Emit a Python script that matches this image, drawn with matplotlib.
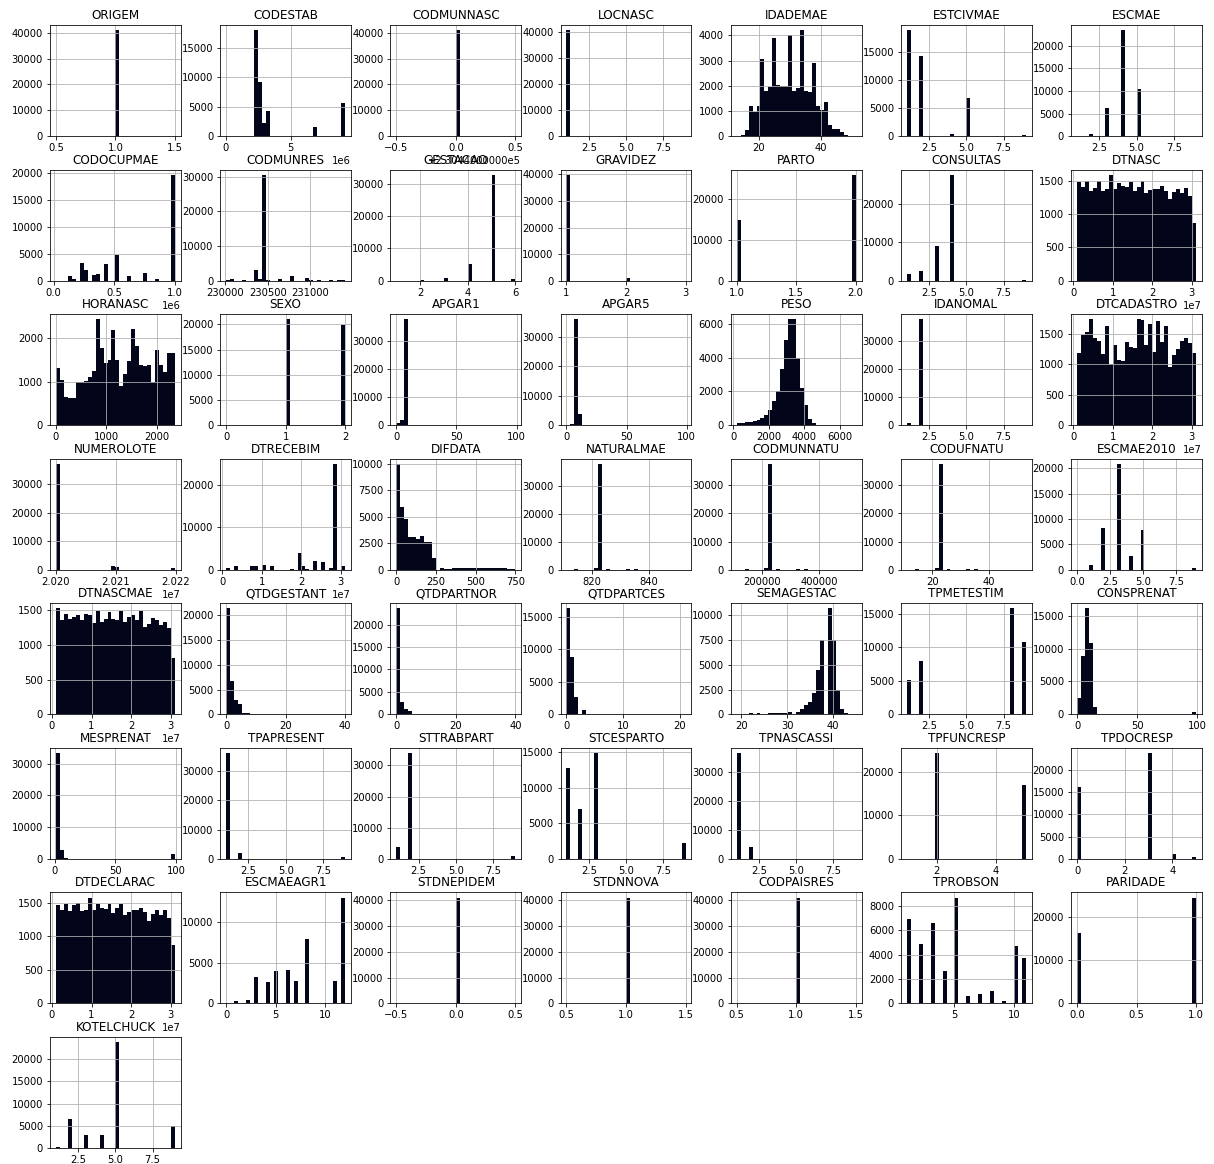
import numpy as np
import matplotlib
matplotlib.use('Agg')
import matplotlib.pyplot as plt
import matplotlib.ticker as mticker

BAR = '#03051A'

columns = ['ORIGEM', 'CODESTAB', 'CODMUNNASC', 'LOCNASC', 'IDADEMAE', 'ESTCIVMAE', 'ESCMAE',
           'CODOCUPMAE', 'CODMUNRES', 'GESTACAO', 'GRAVIDEZ', 'PARTO', 'CONSULTAS', 'DTNASC',
           'HORANASC', 'SEXO', 'APGAR1', 'APGAR5', 'PESO', 'IDANOMAL', 'DTCADASTRO',
           'NUMEROLOTE', 'DTRECEBIM', 'DIFDATA', 'NATURALMAE', 'CODMUNNATU', 'CODUFNATU', 'ESCMAE2010',
           'DTNASCMAE', 'QTDGESTANT', 'QTDPARTNOR', 'QTDPARTCES', 'SEMAGESTAC', 'TPMETESTIM', 'CONSPRENAT',
           'MESPRENAT', 'TPAPRESENT', 'STTRABPART', 'STCESPARTO', 'TPNASCASSI', 'TPFUNCRESP', 'TPDOCRESP',
           'DTDECLARAC', 'ESCMAEAGR1', 'STDNEPIDEM', 'STDNNOVA', 'CODPAISRES', 'TPROBSON', 'PARIDADE',
           'KOTELCHUCK']

# ---- discrete columns: distinct values and their frequencies ----
ORIGEM_vals = [1]
ORIGEM_cnts = [40900]
CODMUNNASC_vals = [230440]
CODMUNNASC_cnts = [40900]
LOCNASC_vals = [1, 2, 3, 4, 9]
LOCNASC_cnts = [40700, 100, 50, 20, 10]
ESTCIVMAE_vals = [1, 2, 3, 4, 5, 9]
ESTCIVMAE_cnts = [18800, 14200, 50, 400, 6800, 150]
ESCMAE_vals = [1, 2, 3, 4, 5, 9]
ESCMAE_cnts = [50, 500, 6300, 23400, 10500, 100]
GESTACAO_vals = [1, 2, 3, 4, 5, 6]
GESTACAO_cnts = [60, 250, 700, 5200, 32800, 600]
GRAVIDEZ_vals = [1, 2, 3]
GRAVIDEZ_cnts = [39800, 1100, 20]
PARTO_vals = [1, 2]
PARTO_cnts = [14900, 26000]
CONSULTAS_vals = [1, 2, 3, 4, 9]
CONSULTAS_cnts = [1700, 2500, 9000, 27500, 300]
SEXO_vals = [0, 1, 2]
SEXO_cnts = [5, 21000, 19800]
IDANOMAL_vals = [1, 2, 9]
IDANOMAL_cnts = [700, 37500, 100]
NATURALMAE_vals = [811, 815, 822, 823, 826, 832, 835, 853]
NATURALMAE_cnts = [20, 400, 800, 37800, 300, 300, 300, 20]
CODMUNNATU_vals = [110000, 140000, 215000, 230440, 260000, 325000, 355000, 530010]
CODMUNNATU_cnts = [20, 250, 800, 37500, 300, 300, 300, 30]
CODUFNATU_vals = [11, 15, 22, 23, 26, 32, 35, 53]
CODUFNATU_cnts = [20, 250, 800, 37500, 300, 300, 300, 30]
ESCMAE2010_vals = [0, 1, 2, 3, 4, 5, 9]
ESCMAE2010_cnts = [50, 1000, 8300, 20900, 2700, 7800, 300]
SEMAGESTAC_vals = list(range(19, 46))
SEMAGESTAC_cnts = [5, 10, 20, 100, 20, 100, 60, 120, 130, 140, 150, 160, 250, 250, 500,
                   900, 1300, 2200, 4500, 7500, 10700, 7500, 2500, 500, 150, 30, 10]
TPMETESTIM_vals = [1, 2, 8, 9]
TPMETESTIM_cnts = [5200, 7900, 15800, 10800]
TPAPRESENT_vals = [1, 2, 3, 9]
TPAPRESENT_cnts = [36200, 1900, 100, 700]
STTRABPART_vals = [1, 2, 3, 9]
STTRABPART_cnts = [3700, 34000, 50, 1000]
STCESPARTO_vals = [1, 2, 3, 9]
STCESPARTO_cnts = [12800, 7000, 14900, 2200]
TPNASCASSI_vals = [1, 2, 3, 9]
TPNASCASSI_cnts = [36700, 4300, 50, 30]
TPFUNCRESP_vals = [1, 2, 3, 4, 5]
TPFUNCRESP_cnts = [10, 24300, 30, 10, 16900]
TPDOCRESP_vals = [0, 1, 2, 3, 4, 5]
TPDOCRESP_cnts = [16000, 20, 20, 23700, 1200, 500]
ESCMAEAGR1_vals = [0, 1, 2, 3, 4, 5, 6, 7, 8, 9, 10, 11, 12]
ESCMAEAGR1_cnts = [50, 300, 400, 3300, 2600, 4000, 4100, 2700, 7900, 100, 50, 2700, 13000]
STDNEPIDEM_vals = [0]
STDNEPIDEM_cnts = [40900]
STDNNOVA_vals = [1]
STDNNOVA_cnts = [40900]
CODPAISRES_vals = [1]
CODPAISRES_cnts = [40900]
TPROBSON_vals = [1, 2, 3, 4, 5, 6, 7, 8, 9, 10, 11]
TPROBSON_cnts = [6900, 4900, 6600, 2700, 8700, 600, 800, 1000, 200, 4700, 3700]
PARIDADE_vals = [0, 1]
PARIDADE_cnts = [16300, 24600]
KOTELCHUCK_vals = [1, 2, 3, 4, 5, 9]
KOTELCHUCK_cnts = [200, 6500, 3000, 3000, 23800, 4900]

# ---- wide-range columns: data range and the 30 bin counts ----
CODESTAB_range = (20000, 9200000)
CODESTAB_bins = [5, 0, 0, 0, 0, 0, 0, 18000, 9200, 2200, 4300, 0, 0, 0, 0,
                 0, 0, 0, 0, 0, 0, 0, 1600, 0, 0, 0, 0, 0, 0, 5700]
IDADEMAE_range = (13, 51)
IDADEMAE_bins = [20, 60, 250, 1200, 950, 1200, 3050, 1800, 1950, 3900, 2050, 2000, 2000, 4000, 1800,
                 1900, 4200, 1800, 1750, 2900, 1200, 1050, 1350, 450, 300, 280, 150, 40, 10, 5]
CODOCUPMAE_range = (20000, 1000000)
CODOCUPMAE_bins = [0, 0, 0, 800, 300, 0, 3300, 2000, 0, 1000, 1200, 0, 3100, 0, 0,
                   4700, 0, 0, 900, 0, 0, 0, 1400, 0, 0, 250, 0, 0, 0, 19700]
CODMUNRES_range = (230010, 231410)
CODMUNRES_bins = [100, 600, 0, 0, 300, 0, 0, 3000, 600, 30500, 300, 0, 0, 600, 0,
                  0, 1500, 0, 0, 0, 900, 300, 0, 300, 0, 0, 300, 0, 300, 100]
DTNASC_range = (1010000, 31100000)
DTNASC_bins = [1480, 1400, 1490, 1350, 1390, 1490, 1350, 1370, 1590, 1380, 1460, 1420, 1400, 1480, 1340,
               1400, 1490, 1310, 1360, 1380, 1380, 1420, 1350, 1220, 1330, 1380, 1310, 1390, 1270, 870]
HORANASC_range = (0, 2359)
HORANASC_bins = [1310, 1050, 650, 620, 620, 990, 1000, 1020, 1100, 1250, 2430, 1770, 1440, 1490, 2180,
                 1500, 890, 1170, 1480, 2200, 1820, 1380, 1370, 1390, 1000, 1720, 1390, 1220, 1650, 1670]
APGAR1_range = (0, 99)
APGAR1_bins = [800, 1900, 37500, 100, 0, 0, 0, 0, 0, 0, 0, 0, 0, 0, 0,
               0, 0, 0, 0, 0, 0, 0, 0, 0, 0, 0, 0, 0, 0, 50]
APGAR5_range = (0, 99)
APGAR5_bins = [200, 400, 36000, 4000, 0, 0, 0, 0, 0, 0, 0, 0, 0, 0, 0,
               0, 0, 0, 0, 0, 0, 0, 0, 0, 0, 0, 0, 0, 0, 50]
PESO_range = (200, 6900)
PESO_bins = [130, 130, 190, 200, 230, 340, 420, 600, 900, 1450, 2050, 3350, 5050, 6250, 6250,
             3950, 2200, 1200, 400, 120, 40, 15, 8, 5, 3, 2, 2, 1, 1, 1]
DTCADASTRO_range = (1010000, 31100000)
DTCADASTRO_bins = [1180, 1480, 1540, 1740, 1430, 1390, 1170, 1630, 1000, 1320, 1080, 1050, 1370, 1290, 1270,
                   1740, 1730, 1320, 1660, 1200, 1710, 1370, 1630, 960, 1150, 1250, 1390, 1440, 1350, 1180]
NUMEROLOTE_range = (20200010, 20219900)
NUMEROLOTE_bins = [37000, 0, 0, 0, 0, 0, 0, 0, 0, 0, 0, 0, 0, 0, 1500,
                   1100, 0, 0, 0, 0, 0, 0, 0, 0, 0, 0, 0, 0, 0, 700]
DTRECEBIM_range = (1010000, 31100000)
DTRECEBIM_bins = [500, 0, 1000, 0, 0, 0, 800, 800, 0, 1200, 0, 800, 0, 0, 0,
                  0, 300, 0, 4000, 800, 300, 0, 2200, 0, 1800, 0, 500, 25000, 0, 1000]
DIFDATA_range = (0, 750)
DIFDATA_bins = [10000, 5900, 4800, 3100, 3100, 2950, 3200, 2600, 2600, 1100, 20, 150, 60, 120, 130,
                130, 130, 130, 140, 140, 140, 140, 140, 150, 200, 150, 130, 130, 120, 120]
DTNASCMAE_range = (1010000, 31100000)
DTNASCMAE_bins = [1520, 1350, 1440, 1370, 1400, 1430, 1350, 1440, 1430, 1310, 1490, 1330, 1370, 1470, 1370,
                  1360, 1490, 1320, 1400, 1420, 1350, 1490, 1260, 1290, 1390, 1350, 1280, 1320, 1240, 810]
QTDGESTANT_range = (0, 40)
QTDGESTANT_bins = [21400, 6800, 3000, 2000, 350, 300, 100, 40, 20, 10, 5, 5, 3, 2, 2,
                   1, 1, 1, 1, 1, 1, 1, 1, 1, 1, 1, 1, 1, 1, 1]
QTDPARTNOR_range = (0, 40)
QTDPARTNOR_bins = [23600, 2800, 1300, 700, 150, 100, 30, 10, 5, 3, 2, 2, 1, 1, 1,
                   1, 1, 1, 1, 1, 1, 1, 1, 1, 1, 1, 1, 1, 1, 1]
QTDPARTCES_range = (0, 21)
QTDPARTCES_bins = [16300, 8800, 2700, 0, 700, 100, 0, 20, 5, 0, 2, 1, 0, 1, 1,
                   0, 1, 0, 1, 1, 0, 1, 0, 1, 1, 0, 1, 0, 1, 1]
CONSPRENAT_range = (0, 99)
CONSPRENAT_bins = [2500, 8900, 16100, 10800, 1100, 0, 0, 0, 0, 0, 0, 0, 0, 0, 0,
                   0, 0, 0, 0, 0, 0, 0, 0, 0, 0, 0, 0, 0, 0, 300]
MESPRENAT_range = (1, 99)
MESPRENAT_bins = [33300, 2900, 400, 0, 0, 0, 0, 0, 0, 0, 0, 0, 0, 0, 0,
                  0, 0, 0, 0, 0, 0, 0, 0, 0, 0, 0, 0, 0, 0, 1700]
DTDECLARAC_range = (1010000, 31100000)
DTDECLARAC_bins = [1470, 1400, 1480, 1380, 1470, 1500, 1380, 1400, 1580, 1390, 1480, 1430, 1410, 1480, 1350,
                   1420, 1490, 1320, 1370, 1390, 1400, 1420, 1360, 1230, 1340, 1390, 1320, 1390, 1270, 870]


class OldOffsetFormatter(mticker.ScalarFormatter):
    """Scalar formatter writing the offset in the long '%1.10e' style."""
    def get_offset(self):
        if len(self.locs) == 0:
            return ''
        if self.orderOfMagnitude or self.offset:
            offset_str = ''
            sci_str = ''
            if self.offset:
                mant, exp = ('%1.10e' % self.offset).split('e')
                sign = exp[0].replace('+', '')
                exp = exp[1:].lstrip('0')
                offset_str = '%se%s%s' % (mant, sign, exp)
                if self.offset > 0:
                    offset_str = '+' + offset_str
            if self.orderOfMagnitude:
                sci_str = '1e%d' % self.orderOfMagnitude
            return self.fix_minus(sci_str + offset_str)
        return ''


# ---- figure layout ----
W, H, DPI = 1214, 1164, 72
fig, axes = plt.subplots(8, 7, figsize=(W / DPI, H / DPI), dpi=DPI)
fig.subplots_adjust(left=50 / W, right=1202 / W, top=1 - 25 / H, bottom=1 - 1148 / H,
                    wspace=0.3, hspace=0.3)
axes = axes.ravel()
g = globals()
for i, name in enumerate(columns):
    ax = axes[i]
    if name + '_bins' in g:
        lo, hi = g[name + '_range']
        counts = g[name + '_bins']
        edges = np.linspace(lo, hi, len(counts) + 1)
        ax.hist(edges[:-1], bins=edges, weights=counts, color=BAR)
    else:
        ax.hist(g[name + '_vals'], bins=30, weights=g[name + '_cnts'], color=BAR)
    ax.xaxis.set_major_formatter(OldOffsetFormatter())
    ax.set_title(name, fontsize=12)
    ax.grid(True)
    ax.tick_params(labelsize=10)
for ax in axes[len(columns):]:
    ax.remove()

fig.savefig('out.png', dpi=DPI)
